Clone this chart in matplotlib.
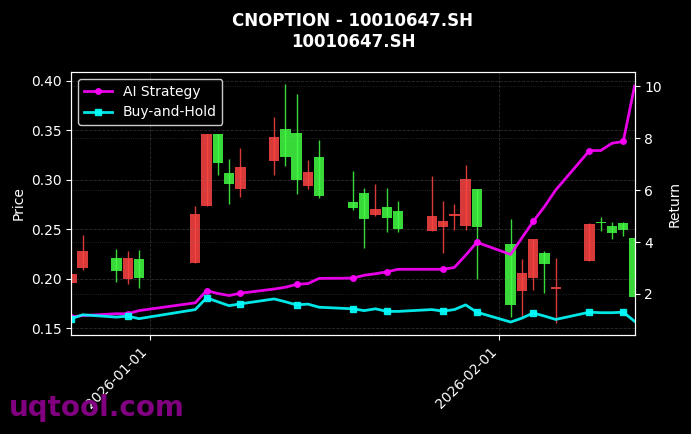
import numpy as np
import pandas as pd
import matplotlib
matplotlib.use('Agg')
import matplotlib.pyplot as plt
import matplotlib.dates as mdates

dates = ['2025-12-25', '2025-12-26', '2025-12-29', '2025-12-30', '2025-12-31',
         '2026-01-05', '2026-01-06', '2026-01-07', '2026-01-08', '2026-01-09',
         '2026-01-12', '2026-01-13', '2026-01-14', '2026-01-15', '2026-01-16',
         '2026-01-19', '2026-01-20', '2026-01-21', '2026-01-22', '2026-01-23',
         '2026-01-26', '2026-01-27', '2026-01-28', '2026-01-29', '2026-01-30',
         '2026-02-02', '2026-02-03', '2026-02-04', '2026-02-05', '2026-02-06',
         '2026-02-09', '2026-02-10', '2026-02-11', '2026-02-12', '2026-02-13']
opens = [0.205, 0.228, 0.2075, 0.221, 0.201,
         0.265, 0.346, 0.317, 0.296, 0.313,
         0.3435, 0.3235, 0.300, 0.308, 0.2836,
         0.2717, 0.2604, 0.2704, 0.2616, 0.2502,
         0.2633, 0.2583, 0.2641, 0.3009, 0.2525,
         0.173, 0.2058, 0.240, 0.2153, 0.1901,
         0.2552, 0.2562, 0.2464, 0.2491, 0.1815]
highs = [0.206, 0.244, 0.230, 0.228, 0.229,
         0.2735, 0.3465, 0.3465, 0.3212, 0.3323,
         0.3638, 0.397, 0.3864, 0.320, 0.3405,
         0.309, 0.2917, 0.2958, 0.2914, 0.2786,
         0.3039, 0.2786, 0.2755, 0.3148, 0.2904,
         0.260, 0.2197, 0.240, 0.2281, 0.2207,
         0.2565, 0.2623, 0.2569, 0.2576, 0.2407]
lows = [0.195, 0.209, 0.197, 0.195, 0.191,
        0.216, 0.2738, 0.305, 0.2755, 0.2829,
        0.305, 0.314, 0.2859, 0.2907, 0.2819,
        0.2694, 0.231, 0.263, 0.2474, 0.2474,
        0.2484, 0.2258, 0.2491, 0.2491, 0.2001,
        0.1612, 0.1612, 0.1883, 0.1855, 0.1548,
        0.218, 0.2484, 0.2403, 0.2433, 0.1815]
closes = [0.1955, 0.211, 0.221, 0.200, 0.220,
          0.216, 0.2738, 0.3465, 0.3067, 0.291,
          0.3194, 0.3516, 0.3478, 0.2938, 0.3232,
          0.2778, 0.287, 0.2643, 0.2728, 0.2684,
          0.2484, 0.2525, 0.2636, 0.2535, 0.2904,
          0.2349, 0.1875, 0.2007, 0.2261, 0.1896,
          0.218, 0.2565, 0.2535, 0.2559, 0.2407]
ai_return = [1.12, 1.17, 1.24, 1.24, 1.36,
             1.66, 2.13, 2.02, 1.94, 2.03,
             2.19, 2.26, 2.37, 2.40, 2.60,
             2.61, 2.72, 2.78, 2.85, 2.95,
             2.95, 2.95, 3.02, 3.49, 3.99,
             3.52, 4.16, 4.79, 5.36, 6.00,
             7.52, 7.52, 7.80, 7.87, 10.0]
bh_return = [1.05, 1.20, 1.11, 1.15, 1.05,
             1.40, 1.85, 1.70, 1.55, 1.62,
             1.81, 1.70, 1.58, 1.61, 1.49,
             1.43, 1.36, 1.43, 1.33, 1.33,
             1.40, 1.34, 1.40, 1.58, 1.30,
             0.92, 1.07, 1.27, 1.15, 1.02,
             1.30, 1.28, 1.28, 1.30, 0.95]

x = mdates.date2num(pd.to_datetime(dates))
o = np.array(opens)
h = np.array(highs)
l = np.array(lows)
c = np.array(closes)
up = c >= o
cols = np.where(up, '#44ff44', '#ff4444')

fig = plt.figure(figsize=(6.91, 4.34), dpi=100, facecolor='black')
ax = fig.add_subplot(111)
fig.subplots_adjust(left=0.1033, right=0.9183, top=0.834, bottom=0.228)
ax.set_facecolor('black')

# candles
ax.vlines(x, l, h, colors=cols, linewidth=1, alpha=0.85)
body = np.maximum(np.abs(c - o), 0.0015)
ax.bar(x, body, bottom=np.minimum(o, c), width=0.92, color=cols, alpha=0.85)

ax.set_ylim(0.143, 0.409)
ax.set_ylabel('Price', color='white')
ax.grid(True, linestyle='--', color='gray', alpha=0.35, linewidth=0.6)

ax2 = ax.twinx()
ax2.plot(x, ai_return, color='#ff00ff', linewidth=2, marker='o', markersize=4,
         markevery=3, alpha=0.9, label='AI Strategy')
ax2.plot(x, bh_return, color='#00ffff', linewidth=2, marker='s', markersize=4,
         markevery=3, alpha=0.9, label='Buy-and-Hold')
ax2.set_ylim(0.42, 10.54)
ax2.set_ylabel('Return', color='white')
ax2.grid(True, linestyle=':', color='gray', alpha=0.35, linewidth=0.6)

ax.set_xlim(x[0], x[-1])
ax.xaxis.set_major_locator(mdates.MonthLocator())
ax.xaxis.set_major_formatter(mdates.DateFormatter('%Y-%m-%d'))
plt.setp(ax.get_xticklabels(), rotation=45, ha='right')

for a in (ax, ax2):
    a.tick_params(colors='white')
    for s in a.spines.values():
        s.set_color('white')

leg = ax2.legend(loc='upper left', facecolor='black', edgecolor='white')
for t in leg.get_texts():
    t.set_color('white')

ax.set_title('CNOPTION - 10010647.SH\n10010647.SH', color='white',
             fontweight='bold', fontsize=12, pad=18)

fig.text(0.013, 0.027, 'uqtool.com', color='#800080', fontsize=20,
         fontweight='bold', ha='left', va='bottom')

fig.savefig('out.png', dpi=100, facecolor='black')
